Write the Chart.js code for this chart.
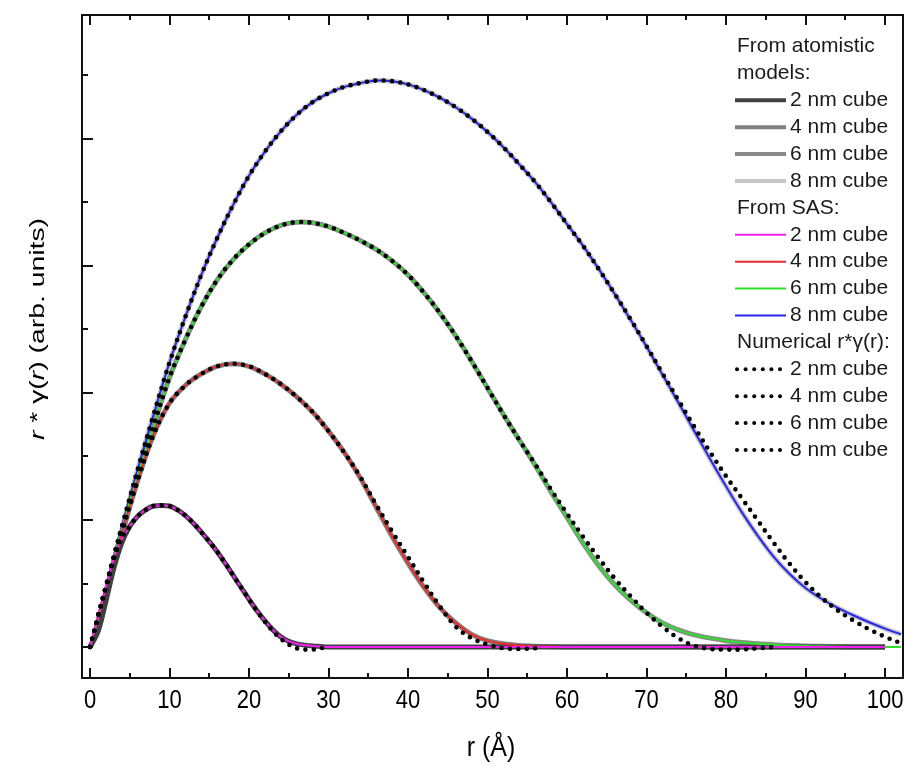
<!DOCTYPE html>
<html>
<head>
<meta charset="utf-8">
<script src="https://cdn.jsdelivr.net/npm/chart.js@4.4.0/dist/chart.umd.min.js"></script>
<style>
  html, body { margin: 0; padding: 0; background: #fff; }
</style>
</head>
<body>
<canvas id="chart" width="911" height="768"></canvas>
<script>
// r grids (Å)
const rSmall = [0, 1, 2, 3, 4, 5, 6, 7, 8, 9, 10, 11, 12, 13, 14, 15, 16, 17, 18, 19, 20,
  21, 22, 23, 24, 25, 26, 27, 28, 29, 30, 32, 34, 40, 50, 60, 70, 80, 90, 100];
const rBig = [0, 1, 2, 3, 4, 6, 8, 10, 12, 14, 16, 18, 20, 22, 24, 26, 28, 30, 32, 34, 36,
  38, 40, 42, 44, 46, 48, 50, 52, 54, 56, 58, 60, 62, 64, 66, 68, 70, 72, 74, 76, 78, 80,
  82, 84, 86, 88, 90, 92, 94, 96, 98, 100, 102];

// 2 nm cube (on rSmall)
const sas2 = [0, 0.24, 0.48, 0.70, 0.85, 0.95, 1.03, 1.08, 1.11, 1.115, 1.11,
  1.08, 1.035, 0.975, 0.905, 0.83, 0.75, 0.66, 0.565, 0.47, 0.375,
  0.285, 0.205, 0.135, 0.08, 0.045, 0.025, 0.015, 0.008, 0.004, 0,
  0, 0, 0, 0, 0, 0, 0, 0, 0];
const atom2 = [0, 0.12, 0.36, 0.62, 0.82, 0.95, 1.03, 1.08, 1.11, 1.115, 1.11,
  1.08, 1.035, 0.975, 0.905, 0.83, 0.75, 0.66, 0.565, 0.47, 0.375,
  0.285, 0.205, 0.135, 0.08, 0.045, 0.025, 0.015, 0.008, 0.004, 0,
  0, 0, 0, 0, 0, 0, 0, 0, 0];
const num2 = [0, 0.24, 0.48, 0.70, 0.86, 0.95, 1.03, 1.08, 1.11, 1.115, 1.11,
  1.08, 1.035, 0.975, 0.905, 0.83, 0.75, 0.66, 0.565, 0.47, 0.375,
  0.285, 0.20, 0.125, 0.065, 0.02, -0.01, -0.02, -0.02, -0.01, 0,
  null, null, null, null, null, null, null, null, null];

// 4 nm cube (on rBig)
const sas4 = [0, 0.24, 0.47, 0.69, 0.90,
  1.31, 1.67, 1.92, 2.06, 2.15, 2.21, 2.23, 2.21, 2.15, 2.07,
  1.97, 1.85, 1.70, 1.53, 1.33, 1.10, 0.87, 0.66, 0.47, 0.31,
  0.19, 0.10, 0.05, 0.025, 0.012, 0.006, 0.003, 0, 0, 0,
  0, 0, 0, 0, 0, 0, 0, 0, 0, 0,
  0, 0, 0, 0, 0, 0, 0, 0, null];
const atom4 = [0, 0.13, 0.38, 0.64, 0.88,
  1.31, 1.67, 1.92, 2.06, 2.15, 2.21, 2.23, 2.21, 2.15, 2.07,
  1.97, 1.85, 1.70, 1.53, 1.33, 1.10, 0.87, 0.66, 0.47, 0.31,
  0.19, 0.10, 0.05, 0.025, 0.012, 0.006, 0.003, 0, 0, 0,
  0, 0, 0, 0, 0, 0, 0, 0, 0, 0,
  0, 0, 0, 0, 0, 0, 0, 0, null];
const num4 = [0, 0.24, 0.47, 0.69, 0.90,
  1.31, 1.67, 1.92, 2.06, 2.15, 2.21, 2.23, 2.21, 2.15, 2.07,
  1.97, 1.85, 1.70, 1.53, 1.34, 1.12, 0.91, 0.71, 0.51, 0.32,
  0.16, 0.07, 0.02, -0.01, -0.015, -0.01, null, null, null, null,
  null, null, null, null, null, null, null, null, null, null,
  null, null, null, null, null, null, null, null, null];

// 6 nm cube (on rBig)
const sas6 = [0, 0.24, 0.47, 0.71, 0.93,
  1.35, 1.74, 2.12, 2.42, 2.68, 2.89, 3.05, 3.17, 3.26, 3.32,
  3.345, 3.34, 3.31, 3.26, 3.20, 3.13, 3.04, 2.93, 2.79, 2.63,
  2.45, 2.25, 2.04, 1.83, 1.63, 1.43, 1.22, 1.02, 0.82, 0.64,
  0.49, 0.37, 0.27, 0.19, 0.135, 0.095, 0.07, 0.05, 0.035, 0.025,
  0.018, 0.012, 0.008, 0.005, 0.003, 0, 0, 0, 0];
const atom6 = [0, 0.13, 0.39, 0.66, 0.90,
  1.35, 1.74, 2.12, 2.42, 2.68, 2.89, 3.05, 3.17, 3.26, 3.32,
  3.345, 3.34, 3.31, 3.26, 3.20, 3.13, 3.04, 2.93, 2.79, 2.63,
  2.45, 2.25, 2.04, 1.83, 1.63, 1.43, 1.22, 1.02, 0.82, 0.64,
  0.49, 0.37, 0.27, 0.19, 0.135, 0.095, 0.07, 0.05, 0.035, 0.025,
  0.018, 0.012, 0.008, 0.005, 0.003, 0, 0, 0, null];
const num6 = [0, 0.24, 0.47, 0.71, 0.93,
  1.35, 1.74, 2.12, 2.42, 2.68, 2.89, 3.05, 3.17, 3.26, 3.32,
  3.345, 3.34, 3.31, 3.26, 3.20, 3.13, 3.04, 2.93, 2.79, 2.63,
  2.45, 2.25, 2.04, 1.83, 1.63, 1.44, 1.24, 1.05, 0.87, 0.70,
  0.54, 0.40, 0.27, 0.16, 0.07, 0.01, -0.015, -0.02, -0.02, -0.01,
  0, null, null, null, null, null, null, null, null];

// 8 nm cube (on rBig)
const sas8 = [0, 0.24, 0.48, 0.72, 0.95,
  1.40, 1.83, 2.24, 2.60, 2.93, 3.22, 3.48, 3.71, 3.90, 4.06,
  4.19, 4.29, 4.36, 4.41, 4.44, 4.46, 4.455, 4.43, 4.385, 4.325,
  4.25, 4.16, 4.055, 3.935, 3.80, 3.66, 3.50, 3.33, 3.16, 2.975,
  2.78, 2.575, 2.365, 2.145, 1.925, 1.70, 1.48, 1.265, 1.06, 0.875,
  0.71, 0.575, 0.465, 0.38, 0.31, 0.25, 0.195, 0.145, 0.10];
const atom8 = [0, 0.14, 0.40, 0.68, 0.92,
  1.40, 1.83, 2.24, 2.60, 2.93, 3.22, 3.48, 3.71, 3.90, 4.06,
  4.19, 4.29, 4.36, 4.41, 4.44, 4.46, 4.455, 4.43, 4.385, 4.325,
  4.25, 4.16, 4.055, 3.935, 3.80, 3.66, 3.50, 3.33, 3.16, 2.975,
  2.78, 2.575, 2.365, 2.145, 1.925, 1.70, 1.48, 1.265, 1.06, 0.875,
  0.71, 0.575, 0.465, 0.38, 0.31, 0.25, 0.195, 0.145, 0.10];
const num8 = [0, 0.24, 0.48, 0.72, 0.95,
  1.40, 1.83, 2.24, 2.60, 2.93, 3.22, 3.48, 3.71, 3.90, 4.06,
  4.19, 4.29, 4.36, 4.41, 4.44, 4.46, 4.455, 4.43, 4.385, 4.325,
  4.25, 4.16, 4.055, 3.935, 3.80, 3.66, 3.50, 3.33, 3.16, 2.975,
  2.78, 2.58, 2.37, 2.155, 1.945, 1.735, 1.535, 1.345, 1.17, 0.995,
  0.82, 0.655, 0.51, 0.39, 0.29, 0.21, 0.14, 0.08, 0.03];

// axes
const xTickValues = [0, 5, 10, 15, 20, 25, 30, 35, 40, 45, 50, 55, 60, 65, 70, 75, 80, 85, 90, 95, 100];
const xTickLabels = ["0", "10", "20", "30", "40", "50", "60", "70", "80", "90", "100"];
const yTickValues = [0, 0.5, 1, 1.5, 2, 2.5, 3, 3.5, 4, 4.5];

const sizeLabels = ["2 nm cube", "4 nm cube", "6 nm cube", "8 nm cube"];
const atomColors = ["#404040", "#808080", "#8a8a8a", "#c6c6c6"];
const sasColors = ["#f020f0", "#ee2a2a", "#2ee02e", "#2626f0"];

const FONT = '"Liberation Sans", Arial, sans-serif';

function toPoints(rs, vs) {
  return rs.map((r, i) => ({ x: r, y: vs[i] }));
}

function atomSet(label, rs, vs, color) {
  return {
    label, data: toPoints(rs, vs), borderColor: color, borderWidth: 5,
    pointRadius: 0, tension: 0.35, order: 3,
  };
}
function sasSet(label, rs, vs, color) {
  return {
    label, data: toPoints(rs, vs), borderColor: color, borderWidth: 2,
    pointRadius: 0, tension: 0.35, order: 2,
  };
}
function numSet(label, rs, vs) {
  return {
    label, data: toPoints(rs, vs), borderColor: "#000", borderWidth: 4.6,
    borderDash: [0, 8.4], borderCapStyle: "round",
    pointRadius: 0, tension: 0.35, order: 1,
  };
}

// frame, inward ticks, tick labels and axis titles
const axesPlugin = {
  id: "axesDeco",
  afterDraw(chart) {
    const { ctx, chartArea: a, scales: { x, y } } = chart;
    ctx.save();
    ctx.strokeStyle = "#111";
    ctx.lineWidth = 2;
    ctx.strokeRect(a.left, a.top, a.right - a.left, a.bottom - a.top);

    ctx.beginPath();
    xTickValues.forEach((v) => {
      const px = Math.round(x.getPixelForValue(v));
      const len = v % 10 === 0 ? 10 : 5;
      ctx.moveTo(px, a.bottom);
      ctx.lineTo(px, a.bottom - len);
      ctx.moveTo(px, a.top);
      ctx.lineTo(px, a.top + len);
    });
    yTickValues.forEach((v) => {
      const py = Math.round(y.getPixelForValue(v));
      const len = v % 1 === 0 ? 11 : 6;
      ctx.moveTo(a.left, py);
      ctx.lineTo(a.left + len, py);
    });
    ctx.stroke();

    // x tick labels
    ctx.fillStyle = "#000";
    ctx.font = "22px " + FONT;
    ctx.textAlign = "center";
    ctx.textBaseline = "middle";
    xTickLabels.forEach((t) => {
      ctx.save();
      ctx.translate(x.getPixelForValue(parseFloat(t)), 701);
      ctx.scale(1, 1.2);
      ctx.fillText(t, 0, 0);
      ctx.restore();
    });

    // x title
    ctx.save();
    ctx.translate(491, 748);
    ctx.scale(1, 1.1);
    ctx.font = "25px " + FONT;
    ctx.fillText("r (\u00C5)", 0, 0);
    ctx.restore();

    // y title
    const parts = [["r", true], [" * \u03B3(", false], ["r", true], [") (arb. units)", false]];
    ctx.save();
    ctx.translate(38, 329);
    ctx.rotate(-Math.PI / 2);
    ctx.scale(1.35, 1);
    ctx.textAlign = "left";
    let total = 0;
    parts.forEach(([t, it]) => {
      ctx.font = (it ? "italic " : "") + "21px " + FONT;
      total += ctx.measureText(t).width;
    });
    let cx = -total / 2;
    parts.forEach(([t, it]) => {
      ctx.font = (it ? "italic " : "") + "21px " + FONT;
      ctx.fillText(t, cx, 0);
      cx += ctx.measureText(t).width;
    });
    ctx.restore();
    ctx.restore();
  },
};

// legend with section headers
const legendPlugin = {
  id: "sectionLegend",
  afterDraw(chart) {
    const { ctx } = chart;
    const x0 = 735, x1 = 786, textX = 790, headX = 737;
    const step = 26.9;
    let yy = 46.5;
    ctx.save();
    ctx.fillStyle = "#1a1a1a";
    ctx.font = "21px " + FONT;
    ctx.textBaseline = "middle";
    ctx.textAlign = "left";
    const head = (t) => { ctx.fillText(t, headX, yy); yy += step; };
    const row = (i, draw) => {
      ctx.save();
      draw();
      ctx.restore();
      ctx.fillText(sizeLabels[i], textX, yy);
      yy += step;
    };

    head("From atomistic");
    head("models:");
    sizeLabels.forEach((s, i) => {
      row(i, () => {
        ctx.strokeStyle = atomColors[i];
        ctx.lineWidth = 4;
        ctx.beginPath(); ctx.moveTo(x0, yy); ctx.lineTo(x1, yy); ctx.stroke();
      });
    });
    head("From SAS:");
    sizeLabels.forEach((s, i) => {
      row(i, () => {
        ctx.strokeStyle = sasColors[i];
        ctx.lineWidth = 2;
        ctx.beginPath(); ctx.moveTo(x0, yy); ctx.lineTo(x1, yy); ctx.stroke();
      });
    });
    head("Numerical r*\u03B3(r):");
    sizeLabels.forEach((s, i) => {
      row(i, () => {
        ctx.fillStyle = "#000";
        for (let k = 0; k < 6; k++) {
          ctx.beginPath();
          ctx.arc(x0 + 2 + k * 8.6, yy, 2, 0, Math.PI * 2);
          ctx.fill();
        }
      });
    });
    ctx.restore();
  },
};

const ctx = document.getElementById("chart").getContext("2d");
new Chart(ctx, {
  type: "line",
  data: {
    datasets: [
      atomSet("atomistic 2 nm", rSmall, atom2, atomColors[0]),
      atomSet("atomistic 4 nm", rBig, atom4, atomColors[1]),
      atomSet("atomistic 6 nm", rBig, atom6, atomColors[2]),
      atomSet("atomistic 8 nm", rBig, atom8, atomColors[3]),
      sasSet("SAS 2 nm", rSmall, sas2, sasColors[0]),
      sasSet("SAS 4 nm", rBig, sas4, sasColors[1]),
      sasSet("SAS 6 nm", rBig, sas6, sasColors[2]),
      sasSet("SAS 8 nm", rBig, sas8, sasColors[3]),
      numSet("numerical 2 nm", rSmall, num2),
      numSet("numerical 4 nm", rBig, num4),
      numSet("numerical 6 nm", rBig, num6),
      numSet("numerical 8 nm", rBig, num8),
    ],
  },
  options: {
    responsive: false,
    animation: false,
    layout: { padding: { left: 82, right: 8, top: 15, bottom: 90 } },
    scales: {
      x: { type: "linear", min: -1.006, max: 102.26, display: false },
      y: { type: "linear", min: -0.244, max: 4.976, display: false },
    },
    plugins: {
      legend: { display: false },
      tooltip: { enabled: false },
    },
  },
  plugins: [axesPlugin, legendPlugin],
});
</script>
</body>
</html>
